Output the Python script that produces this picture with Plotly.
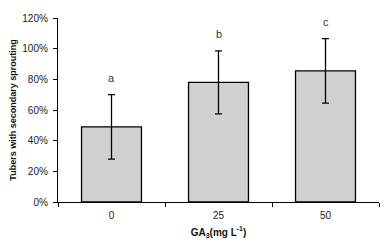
import plotly.graph_objects as go

categories = ["0", "25", "50"]
values = [49, 78, 85.5]
errors = [21, 20.5, 21]
letters = ["a", "b", "c"]
y_ticks = [0, 20, 40, 60, 80, 100, 120]
y_tick_labels = [f"{v}%" for v in y_ticks]

FONT = "Liberation Sans Narrow, Arial Narrow, Liberation Sans, Arial, sans-serif"

fig = go.Figure()
fig.add_trace(go.Bar(
    x=categories, y=values,
    marker=dict(color="#d0d0d0", line=dict(color="black", width=1.3)),
    width=0.56,
    error_y=dict(type="data", array=errors, color="black", thickness=1.3, width=3.5),
))

for i, (v, e, l) in enumerate(zip(values, errors, letters)):
    fig.add_annotation(x=i, y=v + e + 11, text=l, showarrow=False,
                       font=dict(family=FONT, size=11, color="#333"))

# page body adds an 8px offset; compensate in figure size/margins
fig.update_layout(
    width=384, height=234,
    margin=dict(l=50, r=13, t=10, b=40),
    plot_bgcolor="white", paper_bgcolor="white",
    showlegend=False,
    font=dict(family=FONT, size=10, color="#222"),
    xaxis=dict(
        type="category", range=[-0.5, 2.5], automargin=False,
        showline=True, linecolor="black", linewidth=1.3,
        ticks="outside", tickson="boundaries", ticklen=4, tickcolor="black", tickwidth=1,
        ticklabelstandoff=4,
        tickfont=dict(family=FONT, size=10, color="#222"),
        title=dict(text="<b>GA<sub>3</sub>(mg L<sup>-1</sup>)</b>", standoff=8,
                   font=dict(family=FONT, size=10, color="#111")),
        showgrid=False,
    ),
    yaxis=dict(
        range=[0, 120], tickvals=y_ticks, ticktext=y_tick_labels, automargin=False,
        showline=True, linecolor="black", linewidth=1.3,
        ticks="outside", ticklen=4, tickcolor="black", tickwidth=1,
        ticklabelstandoff=3,
        tickfont=dict(family=FONT, size=10, color="#222"),
        title=dict(text="<b>Tubers with secondary sprouting</b>", standoff=6,
                   font=dict(family=FONT, size=9, color="#111")),
        showgrid=False, zeroline=False,
    ),
)

fig.write_html("out.html")
